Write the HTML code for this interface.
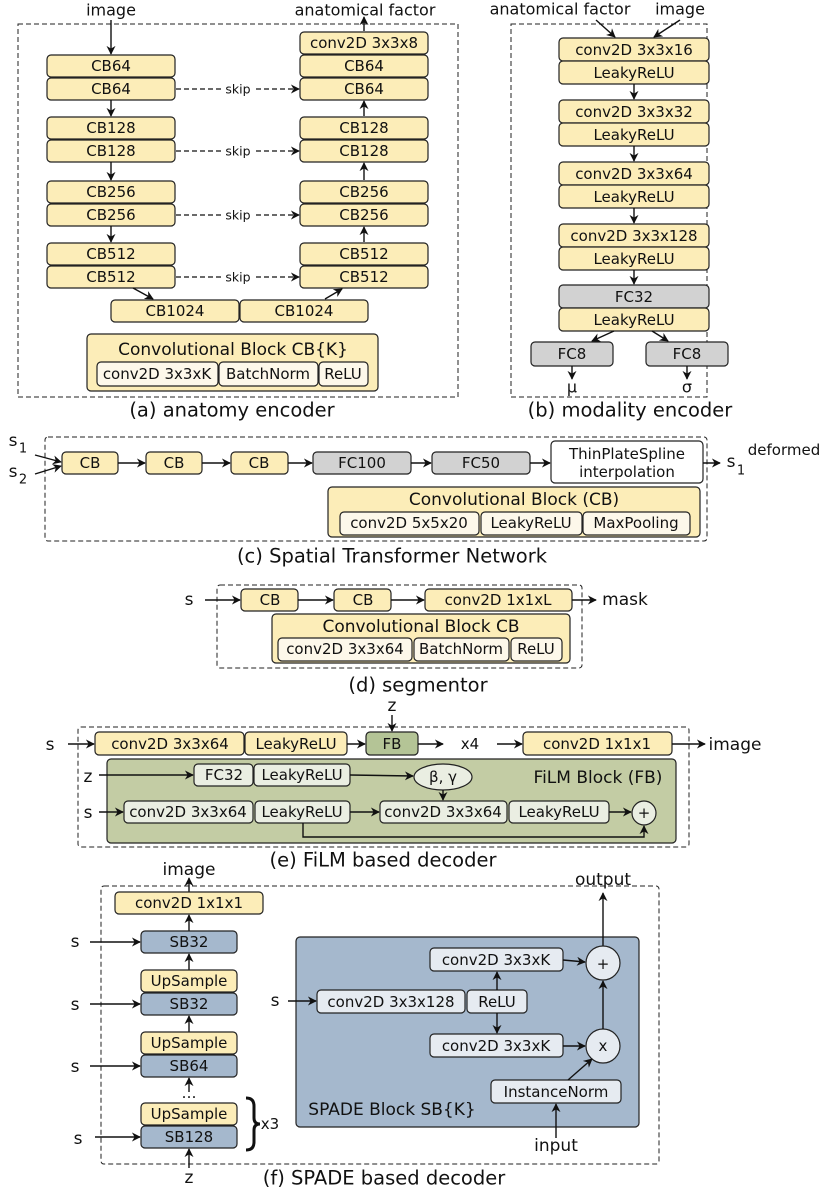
<!DOCTYPE html>
<html><head><meta charset="utf-8"><style>
html,body{margin:0;padding:0;background:#fff}
svg{display:block}
text{font-family:"DejaVu Sans","Liberation Sans",sans-serif;font-size:15px;fill:#111;text-anchor:middle;dominant-baseline:central}
.y{fill:#fcedb8;stroke:#222;stroke-width:1.2}
.g{fill:#d2d2d2;stroke:#222;stroke-width:1.2}
.w{fill:#fff;stroke:#222;stroke-width:1.2}
.lw{fill:#fdf8ea;stroke:#222;stroke-width:1.2}
.gr{fill:#c3cca4;stroke:#222;stroke-width:1.2}
.fb{fill:#b4c496;stroke:#222;stroke-width:1.2}
.lg{fill:#eaeee2;stroke:#222;stroke-width:1.2}
.bl{fill:#a5b8cd;stroke:#222;stroke-width:1.2}
.lb{fill:#e6ebf1;stroke:#222;stroke-width:1.2}
.d{fill:none;stroke:#222;stroke-width:1;stroke-dasharray:5,3}
.a{stroke:#111;stroke-width:1.4;fill:none;marker-end:url(#ar)}
.ad{stroke:#111;stroke-width:1.2;fill:none;stroke-dasharray:5,3;marker-end:url(#ar)}
.l{stroke:#111;stroke-width:1.4;fill:none}
.cap{font-size:19.5px}
</style></head><body>
<svg width="830" height="1189" viewBox="0 0 830 1189" xmlns="http://www.w3.org/2000/svg">
<defs><marker id="ar" viewBox="0 0 10 10" refX="9" refY="5" markerWidth="9" markerHeight="9" orient="auto" markerUnits="userSpaceOnUse"><path d="M0,0 L10,5 L0,10 L3,5 z" fill="#111"/></marker></defs>

<!-- (a) -->
<rect class="d" x="18" y="24" width="440" height="373"/>
<text x="111" y="10" style="font-size:16px">image</text>
<text x="365" y="10" style="font-size:16px">anatomical factor</text>
<line class="a" x1="111" y1="20" x2="111" y2="54"/>
<g>
<rect class="y" x="47" y="55" width="128" height="22" rx="4"/><text x="111" y="66">CB64</text>
<rect class="y" x="47" y="78" width="128" height="22" rx="4"/><text x="111" y="89">CB64</text>
<rect class="y" x="47" y="117" width="128" height="22" rx="4"/><text x="111" y="128">CB128</text>
<rect class="y" x="47" y="140" width="128" height="22" rx="4"/><text x="111" y="151">CB128</text>
<rect class="y" x="47" y="181" width="128" height="22" rx="4"/><text x="111" y="192">CB256</text>
<rect class="y" x="47" y="204" width="128" height="22" rx="4"/><text x="111" y="215">CB256</text>
<rect class="y" x="47" y="243" width="128" height="22" rx="4"/><text x="111" y="254">CB512</text>
<rect class="y" x="47" y="266" width="128" height="22" rx="4"/><text x="111" y="277">CB512</text>
<rect class="y" x="300" y="32" width="128" height="22" rx="4"/><text x="364" y="43">conv2D 3x3x8</text>
<rect class="y" x="300" y="55" width="128" height="22" rx="4"/><text x="364" y="66">CB64</text>
<rect class="y" x="300" y="78" width="128" height="22" rx="4"/><text x="364" y="89">CB64</text>
<rect class="y" x="300" y="117" width="128" height="22" rx="4"/><text x="364" y="128">CB128</text>
<rect class="y" x="300" y="140" width="128" height="22" rx="4"/><text x="364" y="151">CB128</text>
<rect class="y" x="300" y="181" width="128" height="22" rx="4"/><text x="364" y="192">CB256</text>
<rect class="y" x="300" y="204" width="128" height="22" rx="4"/><text x="364" y="215">CB256</text>
<rect class="y" x="300" y="243" width="128" height="22" rx="4"/><text x="364" y="254">CB512</text>
<rect class="y" x="300" y="266" width="128" height="22" rx="4"/><text x="364" y="277">CB512</text>
<rect class="y" x="111" y="300" width="128" height="22" rx="4"/><text x="175" y="311">CB1024</text>
<rect class="y" x="240" y="300" width="128" height="22" rx="4"/><text x="304" y="311">CB1024</text>
</g>
<line class="a" x1="111" y1="100" x2="111" y2="116"/>
<line class="a" x1="111" y1="162" x2="111" y2="180"/>
<line class="a" x1="111" y1="226" x2="111" y2="242"/>
<line class="a" x1="364" y1="116" x2="364" y2="101"/>
<line class="a" x1="364" y1="180" x2="364" y2="163"/>
<line class="a" x1="364" y1="242" x2="364" y2="227"/>
<line class="a" x1="364" y1="31" x2="364" y2="17"/>
<line class="a" x1="133" y1="288" x2="153" y2="299"/>
<line class="a" x1="325" y1="299" x2="342" y2="289"/>
<line class="ad" x1="176" y1="89" x2="299" y2="89"/><rect x="222" y="80" width="32" height="18" fill="#fff"/><text x="238" y="89" style="font-size:12.5px">skip</text>
<line class="ad" x1="176" y1="151" x2="299" y2="151"/><rect x="222" y="142" width="32" height="18" fill="#fff"/><text x="238" y="151" style="font-size:12.5px">skip</text>
<line class="ad" x1="176" y1="215" x2="299" y2="215"/><rect x="222" y="206" width="32" height="18" fill="#fff"/><text x="238" y="215" style="font-size:12.5px">skip</text>
<line class="ad" x1="176" y1="277" x2="299" y2="277"/><rect x="222" y="268" width="32" height="18" fill="#fff"/><text x="238" y="277" style="font-size:12.5px">skip</text>
<rect class="y" x="87" y="334" width="291" height="57" rx="4"/>
<text x="233" y="350" style="font-size:17px">Convolutional Block CB{K}</text>
<rect class="lw" x="97" y="362" width="121" height="24" rx="4"/><text x="157" y="374">conv2D 3x3xK</text>
<rect class="lw" x="219" y="362" width="99" height="24" rx="4"/><text x="268" y="374">BatchNorm</text>
<rect class="lw" x="319" y="362" width="49" height="24" rx="4"/><text x="343" y="374">ReLU</text>
<text class="cap" x="232" y="410">(a) anatomy encoder</text>

<!-- (b) -->
<rect class="d" x="511" y="24" width="196" height="373"/>
<text x="560" y="9" style="font-size:16px">anatomical factor</text>
<text x="680" y="9" style="font-size:16px">image</text>
<line class="a" x1="596" y1="20" x2="615" y2="37"/>
<line class="a" x1="680" y1="20" x2="654" y2="37"/>
<rect class="y" x="559" y="38" width="150" height="23" rx="4"/><text x="634" y="50">conv2D 3x3x16</text>
<rect class="y" x="559" y="61" width="150" height="23" rx="4"/><text x="634" y="73">LeakyReLU</text>
<rect class="y" x="559" y="100" width="150" height="23" rx="4"/><text x="634" y="112">conv2D 3x3x32</text>
<rect class="y" x="559" y="123" width="150" height="23" rx="4"/><text x="634" y="135">LeakyReLU</text>
<rect class="y" x="559" y="162" width="150" height="23" rx="4"/><text x="634" y="174">conv2D 3x3x64</text>
<rect class="y" x="559" y="185" width="150" height="23" rx="4"/><text x="634" y="197">LeakyReLU</text>
<rect class="y" x="559" y="224" width="150" height="23" rx="4"/><text x="634" y="236">conv2D 3x3x128</text>
<rect class="y" x="559" y="247" width="150" height="23" rx="4"/><text x="634" y="259">LeakyReLU</text>
<rect class="g" x="559" y="285" width="150" height="23" rx="4"/><text x="634" y="297">FC32</text>
<rect class="y" x="559" y="308" width="150" height="23" rx="4"/><text x="634" y="320">LeakyReLU</text>
<line class="a" x1="634" y1="84" x2="634" y2="99"/>
<line class="a" x1="634" y1="146" x2="634" y2="161"/>
<line class="a" x1="634" y1="208" x2="634" y2="223"/>
<line class="a" x1="634" y1="270" x2="634" y2="284"/>
<rect class="g" x="531" y="342" width="82" height="24" rx="4"/><text x="572" y="354">FC8</text>
<rect class="g" x="646" y="342" width="82" height="24" rx="4"/><text x="687" y="354">FC8</text>
<line class="a" x1="614" y1="331" x2="592" y2="341"/>
<line class="a" x1="652" y1="331" x2="668" y2="341"/>
<line class="a" x1="572" y1="366" x2="572" y2="379"/>
<line class="a" x1="687" y1="366" x2="687" y2="379"/>
<text x="572" y="387" style="font-size:16px">μ</text>
<text x="687" y="387" style="font-size:16px">σ</text>
<text class="cap" x="630" y="410">(b) modality encoder</text>

<!-- (c) -->
<rect class="d" x="45" y="437" width="662" height="104" rx="3"/>
<text x="13" y="441" style="font-size:17px">s</text><text x="23" y="449" style="font-size:13px">1</text>
<text x="13" y="472" style="font-size:17px">s</text><text x="23" y="480" style="font-size:13px">2</text>
<line class="a" x1="35" y1="455" x2="61" y2="462"/>
<line class="a" x1="35" y1="474" x2="61" y2="466"/>
<rect class="y" x="62" y="452" width="56" height="22" rx="4"/><text x="90" y="463">CB</text>
<rect class="y" x="146" y="452" width="56" height="22" rx="4"/><text x="174" y="463">CB</text>
<rect class="y" x="231" y="452" width="57" height="22" rx="4"/><text x="259" y="463">CB</text>
<rect class="g" x="313" y="452" width="98" height="22" rx="4"/><text x="362" y="463">FC100</text>
<rect class="g" x="432" y="452" width="98" height="22" rx="4"/><text x="481" y="463">FC50</text>
<rect class="w" x="551" y="441" width="152" height="42" rx="4"/><text x="627" y="454">ThinPlateSpline</text><text x="627" y="472">interpolation</text>
<line class="a" x1="118" y1="463" x2="145" y2="463"/>
<line class="a" x1="202" y1="463" x2="230" y2="463"/>
<line class="a" x1="288" y1="463" x2="312" y2="463"/>
<line class="a" x1="411" y1="463" x2="431" y2="463"/>
<line class="a" x1="530" y1="463" x2="550" y2="463"/>
<line class="a" x1="703" y1="463" x2="720" y2="463"/>
<text x="731" y="462" style="font-size:17px">s</text><text x="741" y="471" style="font-size:13px">1</text>
<text x="784" y="450">deformed</text>
<rect class="y" x="328" y="487" width="372" height="50" rx="4"/>
<text x="514" y="500" style="font-size:17px">Convolutional Block (CB)</text>
<rect class="lw" x="340" y="512" width="139" height="23" rx="4"/><text x="409" y="523">conv2D 5x5x20</text>
<rect class="lw" x="481" y="512" width="101" height="23" rx="4"/><text x="531" y="523">LeakyReLU</text>
<rect class="lw" x="583" y="512" width="107" height="23" rx="4"/><text x="636" y="523">MaxPooling</text>
<text class="cap" x="392" y="556">(c) Spatial Transformer Network</text>

<!-- (d) -->
<rect class="d" x="217" y="585" width="365" height="83" rx="3"/>
<text x="189" y="600" style="font-size:17px">s</text>
<line class="a" x1="205" y1="600" x2="240" y2="600"/>
<rect class="y" x="241" y="589" width="57" height="22" rx="4"/><text x="270" y="600">CB</text>
<rect class="y" x="334" y="589" width="57" height="22" rx="4"/><text x="363" y="600">CB</text>
<rect class="y" x="425" y="589" width="147" height="22" rx="4"/><text x="498" y="600">conv2D 1x1xL</text>
<line class="a" x1="298" y1="600" x2="333" y2="600"/>
<line class="a" x1="391" y1="600" x2="424" y2="600"/>
<line class="a" x1="572" y1="600" x2="596" y2="600"/>
<text x="625" y="600" style="font-size:17px">mask</text>
<rect class="y" x="272" y="614" width="298" height="49" rx="4"/>
<text x="421" y="627" style="font-size:17px">Convolutional Block CB</text>
<rect class="lw" x="278" y="638" width="134" height="23" rx="4"/><text x="345" y="649">conv2D 3x3x64</text>
<rect class="lw" x="414" y="638" width="95" height="23" rx="4"/><text x="461" y="649">BatchNorm</text>
<rect class="lw" x="511" y="638" width="51" height="23" rx="4"/><text x="536" y="649">ReLU</text>
<text class="cap" x="418" y="685">(d) segmentor</text>

<!-- (e) -->
<rect class="d" x="78" y="727" width="611" height="120" rx="3"/>
<text x="50" y="745" style="font-size:17px">s</text>
<line class="a" x1="68" y1="744" x2="94" y2="744"/>
<rect class="y" x="95" y="732" width="149" height="23" rx="4"/><text x="170" y="744">conv2D 3x3x64</text>
<rect class="y" x="245" y="732" width="102" height="23" rx="4"/><text x="296" y="744">LeakyReLU</text>
<line class="a" x1="347" y1="744" x2="365" y2="744"/>
<rect class="fb" x="366" y="732" width="52" height="23" rx="4"/><text x="392" y="744">FB</text>
<text x="392" y="706" style="font-size:17px">z</text>
<line class="a" x1="392" y1="715" x2="392" y2="731"/>
<line class="a" x1="418" y1="744" x2="443" y2="744"/>
<text x="470" y="744">x4</text>
<line class="a" x1="497" y1="744" x2="522" y2="744"/>
<rect class="y" x="523" y="732" width="149" height="23" rx="4"/><text x="597" y="744">conv2D 1x1x1</text>
<line class="a" x1="672" y1="744" x2="705" y2="744"/>
<text x="735" y="745" style="font-size:17px">image</text>
<rect class="gr" x="107" y="759" width="569" height="84" rx="4"/>
<text x="88" y="777" style="font-size:17px">z</text>
<line class="a" x1="99" y1="775" x2="193" y2="775"/>
<rect class="lg" x="194" y="764" width="59" height="22" rx="4"/><text x="224" y="775">FC32</text>
<rect class="lg" x="254" y="764" width="96" height="22" rx="4"/><text x="302" y="775">LeakyReLU</text>
<line class="a" x1="350" y1="775" x2="413" y2="776"/>
<ellipse class="lg" cx="443" cy="777" rx="29" ry="13"/><text x="443" y="777">β, γ</text>
<text x="598" y="778" style="font-size:17px">FiLM Block (FB)</text>
<line class="a" x1="443" y1="790" x2="443" y2="800"/>
<text x="88" y="813" style="font-size:17px">s</text>
<line class="a" x1="99" y1="812" x2="123" y2="812"/>
<rect class="lg" x="124" y="801" width="129" height="22" rx="4"/><text x="188" y="812">conv2D 3x3x64</text>
<rect class="lg" x="255" y="801" width="95" height="22" rx="4"/><text x="302" y="812">LeakyReLU</text>
<line class="a" x1="350" y1="812" x2="379" y2="812"/>
<rect class="lg" x="380" y="801" width="127" height="22" rx="4"/><text x="443" y="812">conv2D 3x3x64</text>
<rect class="lg" x="509" y="801" width="100" height="22" rx="4"/><text x="559" y="812">LeakyReLU</text>
<line class="a" x1="609" y1="812" x2="631" y2="812"/>
<circle class="lg" cx="644" cy="813" r="12"/><text x="644" y="813">+</text>
<polyline class="a" points="303,823 303,837 644,837 644,826"/>
<text class="cap" x="383" y="860">(e) FiLM based decoder</text>

<!-- (f) -->
<rect class="d" x="101" y="886" width="558" height="278" rx="3"/>
<text x="189" y="870" style="font-size:17px">image</text>
<line class="a" x1="189" y1="892" x2="189" y2="878"/>
<rect class="y" x="115" y="892" width="148" height="22" rx="4"/><text x="189" y="903">conv2D 1x1x1</text>
<line class="a" x1="189" y1="931" x2="189" y2="915"/>
<rect class="bl" x="141" y="931" width="96" height="22" rx="4"/><text x="189" y="942">SB32</text>
<line class="a" x1="189" y1="970" x2="189" y2="954"/>
<rect class="y" x="141" y="970" width="96" height="22" rx="4"/><text x="189" y="981">UpSample</text>
<rect class="bl" x="141" y="993" width="96" height="22" rx="4"/><text x="189" y="1004">SB32</text>
<line class="a" x1="189" y1="1032" x2="189" y2="1016"/>
<rect class="y" x="141" y="1032" width="96" height="22" rx="4"/><text x="189" y="1043">UpSample</text>
<rect class="bl" x="141" y="1055" width="96" height="22" rx="4"/><text x="189" y="1066">SB64</text>
<line class="a" x1="189" y1="1092" x2="189" y2="1078"/>
<text x="189" y="1093">…</text>
<rect class="y" x="141" y="1103" width="96" height="22" rx="4"/><text x="189" y="1114">UpSample</text>
<rect class="bl" x="141" y="1126" width="96" height="22" rx="4"/><text x="189" y="1137">SB128</text>
<line class="a" x1="189" y1="1168" x2="189" y2="1149"/>
<text x="189" y="1178" style="font-size:17px">z</text>
<text x="75" y="942" style="font-size:17px">s</text><line class="a" x1="90" y1="942" x2="140" y2="942"/>
<text x="75" y="1005" style="font-size:17px">s</text><line class="a" x1="90" y1="1004" x2="140" y2="1004"/>
<text x="75" y="1067" style="font-size:17px">s</text><line class="a" x1="90" y1="1066" x2="140" y2="1066"/>
<text x="78" y="1139" style="font-size:17px">s</text><line class="a" x1="95" y1="1137" x2="140" y2="1137"/>
<path d="M246,1098 q8,0 8,8 v12 q0,6 6,6 q-6,0 -6,6 v12 q0,8 -8,8" fill="none" stroke="#111" stroke-width="3"/>
<text x="270" y="1124">x3</text>
<rect class="bl" x="296" y="937" width="343" height="190" rx="4"/>
<text x="603" y="880" style="font-size:17px">output</text>
<line class="a" x1="603" y1="946" x2="603" y2="893"/>
<text x="275" y="1001" style="font-size:17px">s</text>
<line class="a" x1="288" y1="1001" x2="316" y2="1001"/>
<rect class="lb" x="317" y="990" width="148" height="23" rx="4"/><text x="391" y="1002">conv2D 3x3x128</text>
<rect class="lb" x="467" y="990" width="60" height="23" rx="4"/><text x="497" y="1002">ReLU</text>
<rect class="lb" x="430" y="948" width="133" height="23" rx="4"/><text x="496" y="960">conv2D 3x3xK</text>
<rect class="lb" x="430" y="1034" width="133" height="23" rx="4"/><text x="496" y="1046">conv2D 3x3xK</text>
<line class="a" x1="497" y1="990" x2="497" y2="972"/>
<line class="a" x1="497" y1="1013" x2="497" y2="1033"/>
<line class="a" x1="563" y1="960" x2="585" y2="962"/>
<line class="a" x1="563" y1="1046" x2="585" y2="1046"/>
<circle class="lb" cx="603" cy="963" r="17"/><text x="603" y="964">+</text>
<circle class="lb" cx="603" cy="1046" r="17"/><text x="603" y="1046">x</text>
<line class="a" x1="603" y1="1029" x2="603" y2="981"/>
<rect class="lb" x="491" y="1080" width="130" height="23" rx="4"/><text x="556" y="1092">InstanceNorm</text>
<line class="a" x1="568" y1="1080" x2="592" y2="1059"/>
<text x="392" y="1110" style="font-size:17px">SPADE Block SB{K}</text>
<line class="a" x1="556" y1="1138" x2="556" y2="1104"/>
<text x="556" y="1146" style="font-size:17px">input</text>
<text class="cap" x="384" y="1178">(f) SPADE based decoder</text>
</svg>
</body></html>
